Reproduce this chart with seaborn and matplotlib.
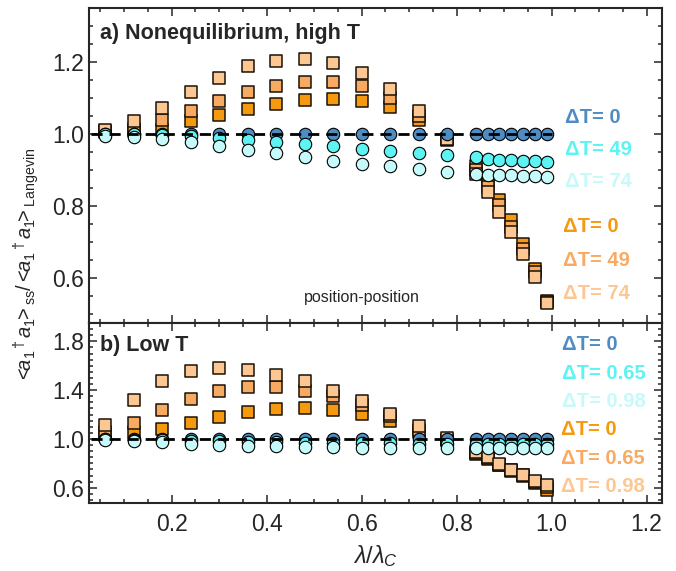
import matplotlib
matplotlib.use("Agg")
import matplotlib.pyplot as plt
from matplotlib.ticker import MultipleLocator, FixedLocator
import numpy as np
import pandas as pd
import seaborn as sns

# lambda / lambda_C
x = [0.06, 0.12, 0.18, 0.24, 0.30, 0.36, 0.42, 0.48, 0.54, 0.60, 0.66, 0.72, 0.78,
     0.84, 0.865, 0.89, 0.915, 0.94, 0.965, 0.99]

# a) high T
circ_hi_0 = [1.0] * 20
circ_hi_49 = [1.0, 0.999, 0.998, 0.994, 0.988, 0.983, 0.977, 0.971, 0.966, 0.959,
              0.954, 0.947, 0.941, 0.937, 0.931, 0.929, 0.927, 0.925, 0.924, 0.922]
circ_hi_74 = [0.995, 0.992, 0.986, 0.977, 0.966, 0.956, 0.946, 0.936, 0.926, 0.916,
              0.910, 0.902, 0.894, 0.890, 0.887, 0.886, 0.885, 0.884, 0.882, 0.880]
sq_hi_0 = [1.005, 1.008, 1.012, 1.037, 1.052, 1.069, 1.083, 1.094, 1.098, 1.093,
           1.075, 1.040, 0.983, 0.911, 0.869, 0.818, 0.761, 0.695, 0.624, 0.536]
sq_hi_49 = [1.008, 1.015, 1.040, 1.065, 1.093, 1.116, 1.134, 1.145, 1.145, 1.132,
            1.101, 1.049, 0.985, 0.900, 0.854, 0.802, 0.742, 0.682, 0.617, 0.534]
sq_hi_74 = [1.012, 1.035, 1.073, 1.116, 1.156, 1.188, 1.204, 1.207, 1.197, 1.170,
            1.124, 1.063, 0.987, 0.888, 0.838, 0.784, 0.727, 0.667, 0.602, 0.531]

# b) low T
circ_lo_0 = [1.0] * 20
circ_lo_65 = [0.997, 0.993, 0.990, 0.985, 0.980, 0.977, 0.973, 0.970, 0.967, 0.965,
              0.963, 0.962, 0.960, 0.960, 0.960, 0.959, 0.959, 0.958, 0.958, 0.958]
circ_lo_98 = [0.990, 0.980, 0.973, 0.962, 0.953, 0.945, 0.940, 0.934, 0.932, 0.926,
              0.926, 0.926, 0.926, 0.926, 0.926, 0.926, 0.926, 0.926, 0.926, 0.926]
sq_lo_0 = [1.036, 1.058, 1.082, 1.129, 1.181, 1.225, 1.249, 1.255, 1.241, 1.205,
           1.145, 1.058, 0.990, 0.877, 0.836, 0.784, 0.737, 0.696, 0.641, 0.584]
sq_lo_65 = [1.055, 1.130, 1.236, 1.330, 1.395, 1.425, 1.425, 1.390, 1.350, 1.280,
            1.186, 1.077, 0.995, 0.885, 0.844, 0.790, 0.743, 0.701, 0.649, 0.603]
sq_lo_98 = [1.118, 1.318, 1.474, 1.556, 1.578, 1.564, 1.523, 1.474, 1.397, 1.315,
            1.205, 1.110, 1.008, 0.893, 0.849, 0.795, 0.748, 0.707, 0.658, 0.619]

labels_hi = ["\u0394T= 0", "\u0394T= 49", "\u0394T= 74"]
labels_lo = ["\u0394T= 0", "\u0394T= 0.65", "\u0394T= 0.98"]

blues = ["#4f8cc2", "#5ef3f3", "#c6fafa"]
oranges = ["#f5990f", "#f8aa62", "#fcc792"]

sns.set_style("ticks")
plt.rcParams["font.family"] = ["Liberation Sans", "DejaVu Sans"]
plt.rcParams["mathtext.fontset"] = "custom"
plt.rcParams["mathtext.rm"] = "Liberation Sans"
plt.rcParams["mathtext.it"] = "Liberation Sans:italic"

fig, (ax1, ax2) = plt.subplots(2, 1, figsize=(6.76, 5.71), dpi=100, sharex=True,
                               gridspec_kw={"height_ratios": [315, 180]})
fig.subplots_adjust(left=0.1317, right=0.979, top=0.986, bottom=0.119, hspace=0)


def draw_panel(ax, sq, circ):
    for vals, c in zip(sq, oranges):
        sns.scatterplot(x=x, y=vals, ax=ax, marker="s", s=85, color=c,
                        edgecolor="#1a1208", linewidth=1.1, zorder=3)
    for vals, c in zip(circ, blues):
        sns.scatterplot(x=x, y=vals, ax=ax, marker="o", s=80, color=c,
                        edgecolor="black", linewidth=0.8, zorder=4)
    ax.hlines(1.0, 0.03, 1.0, colors="black", linestyles=(0, (4, 2.5)),
              linewidth=2, zorder=5)


draw_panel(ax1, [sq_hi_0, sq_hi_49, sq_hi_74], [circ_hi_0, circ_hi_49, circ_hi_74])
draw_panel(ax2, [sq_lo_0, sq_lo_65, sq_lo_98], [circ_lo_0, circ_lo_65, circ_lo_98])

ax1.set_xlim(0.026, 1.232)
ax1.set_ylim(0.475, 1.35)
ax2.set_ylim(0.475, 1.95)
ax1.yaxis.set_major_locator(MultipleLocator(0.2))
ax1.yaxis.set_minor_locator(MultipleLocator(0.05))
ax2.yaxis.set_major_locator(FixedLocator([0.6, 1.0, 1.4, 1.8]))
ax2.yaxis.set_minor_locator(MultipleLocator(0.05))
ax2.xaxis.set_major_locator(MultipleLocator(0.2))
ax2.xaxis.set_minor_locator(MultipleLocator(0.05))
ax1.yaxis.set_major_formatter(plt.FormatStrFormatter("%.1f"))
ax2.yaxis.set_major_formatter(plt.FormatStrFormatter("%.1f"))
ax2.xaxis.set_major_formatter(plt.FormatStrFormatter("%.1f"))

for ax in (ax1, ax2):
    ax.tick_params(which="both", direction="in", top=True, right=True, labelsize=16.5,
                   width=1.1)
    ax.tick_params(which="major", length=6)
    ax.tick_params(which="minor", length=3)
    for sp in ax.spines.values():
        sp.set_linewidth(1.5)

ax2.tick_params(axis="x", pad=7)

ax1.text(0.019, 0.902, "a) Nonequilibrium, high T", transform=ax1.transAxes,
         fontsize=15.5, fontweight="bold", va="baseline", ha="left")
ax2.text(0.019, 0.846, "b) Low T", transform=ax2.transAxes,
         fontsize=15.5, fontweight="bold", va="baseline", ha="left")
ax1.text(0.6, 0.547, "position-position", fontsize=11.5, ha="center", va="center")

for lab, c, yy in zip(labels_hi, blues, [1.047, 0.958, 0.867]):
    ax1.text(1.028, yy, lab, color=c, fontsize=14.5, fontweight="bold", va="center")
for lab, c, yy in zip(labels_hi, oranges, [0.742, 0.65, 0.558]):
    ax1.text(1.024, yy, lab, color=c, fontsize=14.5, fontweight="bold", va="center")
for lab, c, yy in zip(labels_lo, blues, [1.772, 1.54, 1.307]):
    ax2.text(1.021, yy, lab, color=c, fontsize=14.5, fontweight="bold", va="center")
for lab, c, yy in zip(labels_lo, oranges, [1.074, 0.841, 0.608]):
    ax2.text(1.02, yy, lab, color=c, fontsize=14.5, fontweight="bold", va="center")

ax2.set_xlabel(r"$\lambda/\lambda_C$", fontsize=17, labelpad=5)
fig.text(0.038, 0.536,
         r"$\rm <\!\!{\it a}_1{}^\dagger {\it a}_1\!\!>_{ss}/<\!\!{\it a}_1{}^\dagger {\it a}_1\!\!>_{Langevin}$",
         rotation=90, fontsize=14.5, ha="center", va="center")

fig.savefig("out.png", dpi=100)
